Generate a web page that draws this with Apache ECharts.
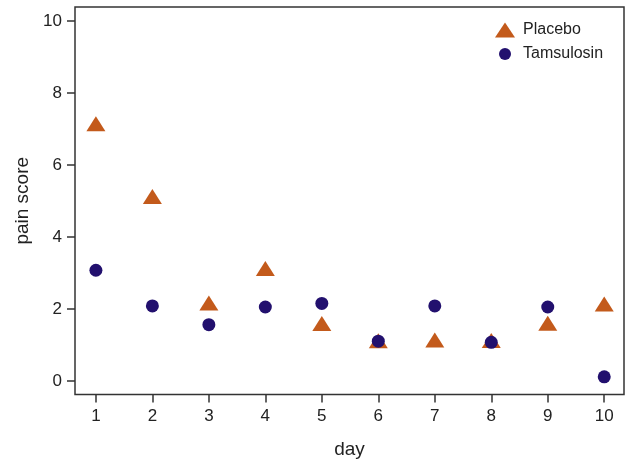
<!DOCTYPE html>
<html>
<head>
<meta charset="utf-8">
<script src="https://cdn.jsdelivr.net/npm/echarts@6/dist/echarts.min.js"></script>
<style>html,body{margin:0;padding:0;background:#fff}#c{width:631px;height:462px}</style>
</head>
<body>
<div id="c"></div>
<script>
var days = [1, 2, 3, 4, 5, 6, 7, 8, 9, 10];
var placebo = [7.15, 5.13, 2.17, 3.13, 1.6, 1.12, 1.14, 1.13, 1.61, 2.14];
var tamsulosin = [3.08, 2.09, 1.57, 2.06, 2.16, 1.11, 2.09, 1.08, 2.06, 0.12];
var yTicks = [0, 2, 4, 6, 8, 10];
var xTicks = [1, 2, 3, 4, 5, 6, 7, 8, 9, 10];

var orange = '#c35a1b';
var navy = '#22106e';
var font = 'Liberation Sans, Arial, sans-serif';

var chart = echarts.init(document.getElementById('c'), null, {renderer: 'canvas'});
chart.setOption({
  animation: false,
  backgroundColor: '#fff',
  grid: {left: 75, right: 7, top: 7, bottom: 67.5, show: true, borderColor: '#333', borderWidth: 1.5,
         backgroundColor: 'transparent', containLabel: false, outerBoundsMode: 'none'},
  xAxis: {
    type: 'value', min: 0.63, max: 10.35,
    name: 'day', nameLocation: 'middle', nameGap: 46,
    nameTextStyle: {fontSize: 19, color: '#222', fontFamily: font},
    axisLine: {show: false, onZero: false},
    splitLine: {show: false},
    axisTick: {show: true, length: 8, lineStyle: {color: '#333', width: 1.5}, customValues: xTicks},
    axisLabel: {fontSize: 17, color: '#222', fontFamily: font, margin: 13, customValues: xTicks}
  },
  yAxis: {
    type: 'value', min: -0.37, max: 10.39,
    name: 'pain score', nameLocation: 'middle', nameGap: 43,
    nameTextStyle: {fontSize: 19, color: '#222', fontFamily: font},
    axisLine: {show: false, onZero: false},
    splitLine: {show: false},
    axisTick: {show: true, length: 8, lineStyle: {color: '#333', width: 1.5}, customValues: yTicks},
    axisLabel: {fontSize: 17, color: '#222', fontFamily: font, margin: 13, customValues: yTicks}
  },
  legend: [
    {data: ['Placebo'], left: 490, top: 17, itemWidth: 20, itemHeight: 15, icon: 'triangle',
     textStyle: {fontSize: 16, color: '#222', fontFamily: font, padding: [0, 0, 0, 3]}},
    {data: ['Tamsulosin'], left: 494, top: 41, itemWidth: 12, itemHeight: 12, icon: 'circle',
     textStyle: {fontSize: 16, color: '#222', fontFamily: font, padding: [0, 0, 0, 7]}}
  ],
  series: [
    {name: 'Placebo', type: 'scatter', symbol: 'triangle', symbolSize: [19, 15],
     itemStyle: {color: orange, opacity: 1},
     data: days.map(function (d, i) { return [d, placebo[i]]; })},
    {name: 'Tamsulosin', type: 'scatter', symbol: 'circle', symbolSize: 13,
     itemStyle: {color: navy, opacity: 1},
     data: days.map(function (d, i) { return [d, tamsulosin[i]]; })}
  ]
});
</script>
</body>
</html>
